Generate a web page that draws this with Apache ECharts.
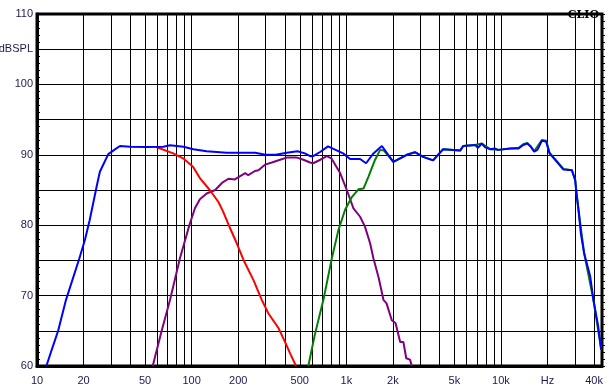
<!DOCTYPE html>
<html>
<head>
<meta charset="utf-8">
<script src="https://cdn.jsdelivr.net/npm/echarts@6/dist/echarts.min.js"></script>
<style>
html,body{margin:0;padding:0;background:#fff;}
#c{width:611px;height:391px;}
</style>
</head>
<body>
<div id="c"></div>
<script>
// Grid / tick values
const gridFreqs = [10,20,30,40,50,60,70,80,90,100,200,300,400,500,600,700,800,900,1000,2000,3000,4000,5000,6000,7000,8000,9000,10000,20000,30000,40000];
const labelFreqs = [10,20,50,100,200,500,1000,2000,5000,10000,20000,40000];
const labelTexts = ['10','20','50','100','200','500','1k','2k','5k','10k','Hz','40k'];

// Blue: total response
const blueFreq = [11.5,12.45,13.7,15.4,18.8,20.4,21.9,24.3,25.5,28.9,31.1,34.4,39.9,51.2,65.6,72.5,88.5,102.6,125,168,190,257,300,350,412,483,540,583,610,677,762,953,1058,1228,1342,1497,1698,2010,2460,2786,3140,3640,4230,5440,5700,6810,7100,7520,7900,8510,9100,9600,11480,13000,13930,14800,15590,16400,17200,18370,19590,20600,22980,25350,28750,30200,30700,31700,32860,34500,37760,39600,42400,44500];
const blueDb   = [60,62.3,65,69.4,75.3,77.9,80.7,85.5,87.6,90.1,90.6,91.25,91.15,91.1,91.15,91.35,91.15,90.8,90.5,90.3,90.3,90.3,90.0,90.0,90.3,90.5,90.2,89.8,89.8,90.4,91.2,90.2,89.4,89.4,88.8,90.2,91.25,89.0,90.0,90.35,89.7,89.2,90.8,90.6,91.25,91.4,91.0,91.6,91.05,90.8,90.9,90.7,90.9,90.9,91.4,91.6,91.15,90.45,90.7,92.0,91.9,90.2,89.0,87.9,87.8,86.4,84.6,82.2,78.8,76.0,72.7,69.4,65.8,62.3];

// Red: woofer
const redFreq = [59,76,88,102,113,131,149,160,177,196,216,251,284,313,364,402,433,473];
const redDb   = [91.1,90.2,89.5,88.3,86.7,85.0,83.3,81.9,79.6,77.4,75.1,72.2,69.4,67.5,65.4,63.4,61.8,60];

// Purple: midrange
const purpleFreq = [56,64,72.5,84,96.6,105,113,125,142,157,173,190,222,232,257,270,298,330,373,412,479,528,583,610,680,748,800,912,1007,1112,1228,1320,1426,1497,1620,1738,1820,1968,2080,2230,2340,2440,2580,2655];
const purpleDb   = [60,65,69.4,75.3,80,82.4,83.7,84.5,85.0,86.0,86.6,86.5,87.4,87.1,87.7,87.8,88.6,88.9,89.3,89.6,89.6,89.3,88.9,88.8,89.3,89.8,89.5,87.4,85.0,82.4,81.2,79.8,77.4,75.3,72.5,69.4,68.9,66.5,66.1,63.4,63.4,61.1,60.9,60];

// Green: tweeter
const greenFreq = [568,628,711,806,889,982,1086,1197,1291,1391,1535,1655,1750,2020,2460,2786,3140,3640,4230,5440,5700,6810,7520,8510,9600,11480,13000,13930,14800,15590,16400,18370,19590,20600,22980,25350,28750,30200,31700,34500,39600,44500];
const greenDb   = [60,64.6,69.4,75.3,79.3,82.2,84.0,85.1,85.2,86.9,89.3,90.7,90.6,89.0,90.0,90.4,89.7,89.2,90.8,90.6,91.25,91.4,91.6,90.8,90.7,90.9,91.0,91.5,91.7,91.2,90.5,92.1,92.0,90.3,89.1,88.0,87.8,86.4,82.2,76.0,69.4,62.3];

function pairs(f, d){ return f.map((x,i)=>[x,d[i]]); }

const labelColor = '#1a1a50';
const chart = echarts.init(document.getElementById('c'), null, {renderer:'canvas'});

function mkSeries(name, f, d, color, z){
  return {
    name, type:'line', data:pairs(f,d), showSymbol:false, symbol:'none',
    lineStyle:{color, width:2}, itemStyle:{color}, z, animation:false, clip:true
  };
}

chart.setOption({
  animation:false,
  backgroundColor:'#fff',
  grid:{left:37, right:9, top:14, bottom:25, show:true, borderColor:'#000', borderWidth:3,
        containLabel:false, outerBoundsMode:'none'},
  xAxis:{
    type:'log', logBase:10, min:10, max:45000,
    axisLine:{show:true, onZero:false, lineStyle:{color:'#000', width:3}},
    axisTick:{show:false, customValues:gridFreqs},
    axisLabel:{
      customValues:labelFreqs,
      color:labelColor, fontSize:11, fontFamily:'Liberation Sans, Arial', margin:9,
      formatter:function(v){ const i = labelFreqs.findIndex(x=>Math.abs(x-v)/x<0.01); return i>=0?labelTexts[i]:''; }
    },
    splitLine:{show:true, lineStyle:{color:'#000', width:1}}
  },
  yAxis:[{
    type:'value', min:60, max:110, interval:5, position:'left',
    axisLine:{show:true, lineStyle:{color:'#000', width:3}},
    axisTick:{show:true, inside:true, length:3, lineStyle:{color:'#000'}},
    minorTick:{show:true, splitNumber:5, length:3, lineStyle:{color:'#000', width:1}},
    axisLabel:{color:labelColor, fontSize:11, fontFamily:'Liberation Sans, Arial', margin:4,
      formatter:function(v){ if (v===105) return 'dBSPL'; return (v%10===0)?String(v):''; }},
    splitLine:{show:true, lineStyle:{color:'#000', width:1}}
  },{
    type:'value', min:60, max:110, interval:5, position:'right',
    axisLine:{show:true, lineStyle:{color:'#000', width:2}},
    axisTick:{show:true, inside:false, length:3, lineStyle:{color:'#000'}},
    minorTick:{show:true, splitNumber:5, length:3, lineStyle:{color:'#000', width:1}},
    axisLabel:{show:false},
    splitLine:{show:false}
  }],
  graphic:[{
    type:'text', right:12, top:10, z:100,
    style:{text:'CLIO', font:'bold 11px "DejaVu Serif", serif', fill:'#000'}
  }],
  series:[
    mkSeries('purple', purpleFreq, purpleDb, '#800080', 3),
    mkSeries('red', redFreq, redDb, '#ff0000', 4),
    mkSeries('green', greenFreq, greenDb, '#008000', 5),
    mkSeries('blue', blueFreq, blueDb, '#0000ff', 6)
  ]
});
</script>
</body>
</html>
